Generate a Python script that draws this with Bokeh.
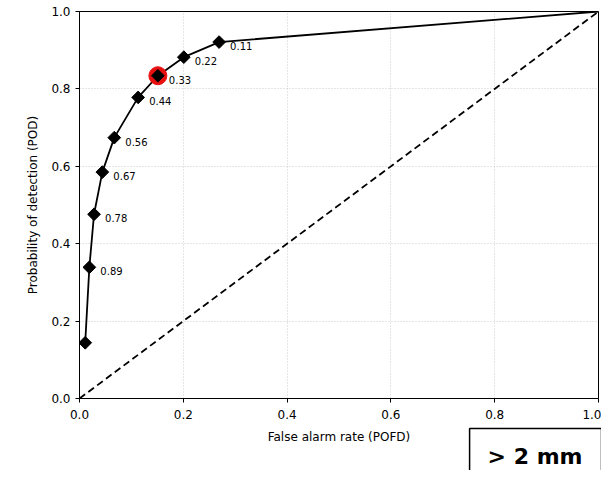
from bokeh.plotting import figure
from bokeh.models import Range1d, FixedTicker, PrintfTickFormatter, ColumnDataSource, Title
from bokeh.core.properties import value
from bokeh.embed import file_html
from bokeh.resources import INLINE

# data
pofd = [0.269, 0.201, 0.151, 0.113, 0.067, 0.044, 0.028, 0.019, 0.011]
pod = [0.921, 0.882, 0.834, 0.778, 0.674, 0.585, 0.476, 0.339, 0.144]
thresholds = ["0.11", "0.22", "0.33", "0.44", "0.56", "0.67", "0.78", "0.89", ""]
end_pofd = [1.0]
end_pod = [1.0]
best_index = 2
ticks = [0.0, 0.2, 0.4, 0.6, 0.8, 1.0]
diag = [0.0, 1.0]
box_text = "> 2 mm"

FONT = "DejaVu Sans"

p = figure(width=601, height=470, output_backend="svg", toolbar_location=None,
           x_range=Range1d(0, 1), y_range=Range1d(0, 1),
           min_border_left=79, min_border_right=3, min_border_top=11, min_border_bottom=71)
p.background_fill_color = "white"
p.border_fill_color = "white"
p.outline_line_color = "black"
p.outline_line_width = 1

for ax in (p.xaxis, p.yaxis):
    ax.ticker = FixedTicker(ticks=ticks)
    ax.formatter = PrintfTickFormatter(format="%.1f")
    ax.minor_tick_line_color = None
    ax.major_tick_in = 0
    ax.major_tick_out = 4
    ax.major_tick_line_color = "black"
    ax.axis_line_color = "black"
    ax.major_label_text_font = FONT
    ax.major_label_text_font_size = "12px"
    ax.major_label_text_color = "black"
    ax.axis_label_text_font = FONT
    ax.axis_label_text_font_size = "12px"
    ax.axis_label_text_font_style = "normal"
    ax.axis_label_text_color = "black"
    ax.major_label_standoff = 5

p.xaxis.axis_label = "False alarm rate (POFD)"
p.yaxis.axis_label = "Probability of detection (POD)"
p.xaxis.major_label_standoff = 7
p.xaxis.axis_label_standoff = 8
p.yaxis.axis_label_standoff = 8

p.grid.grid_line_color = "#c0c0c0"
p.grid.grid_line_dash = "1 2"
p.grid.grid_line_width = 0.8

# no-skill diagonal
p.line(diag, diag, line_color="black", line_width=1.8, line_dash="7 4")

# ROC curve
curve_x = end_pofd + pofd
curve_y = end_pod + pod
p.line(curve_x, curve_y, line_color="black", line_width=1.8)

# highlighted point
p.scatter([pofd[best_index]], [pod[best_index]], marker="circle", size=18,
          fill_color="#e8100f", line_color="#e8100f")

src = ColumnDataSource(dict(x=pofd, y=pod, t=thresholds))
p.scatter("x", "y", source=src, marker="square", angle=0.785398, size=9,
          fill_color="black", line_color="black")
p.text("x", "y", text="t", source=src, x_offset=11, y_offset=4,
       text_font=value(FONT), text_font_size="10px", text_color="black",
       text_align="left", text_baseline="middle")

# boxed size-class note below the axis (outside the plot frame)
note = Title(text=box_text, align="right", offset=-3, standoff=-40,
             text_font=FONT, text_font_size="22px", text_font_style="bold",
             text_color="black", border_line_color="black", border_line_width=1.5,
             background_fill_color="white",
             padding=dict(left=18, right=19, top=15, bottom=22))
p.add_layout(note, "below")

open("out.html", "w").write(file_html(p, INLINE))
